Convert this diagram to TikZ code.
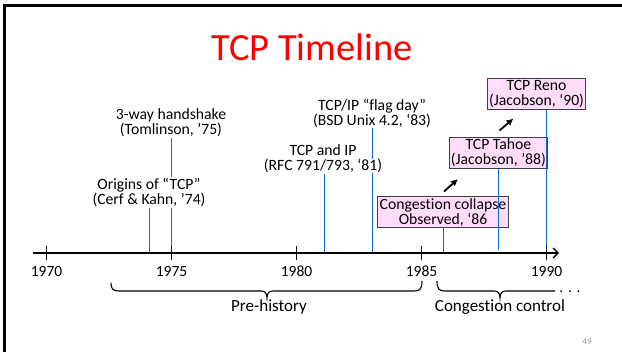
\documentclass[tikz,border=0pt]{standalone}
\usepackage{fontspec}
\setmainfont{Carlito}[Ligatures={NoCommon}, RawFeature={-calt;-clig}]
\usetikzlibrary{arrows.meta}
\definecolor{tlblue}{RGB}{20,105,210}
\definecolor{tlpink}{RGB}{255,221,250}
\definecolor{pgnum}{RGB}{150,150,150}
\tikzset{
  lbl/.style={align=center, inner sep=1pt, font=\fontsize{15.7}{15}\selectfont},
  pinkbox/.style={lbl, draw=black!75, line width=0.9pt, fill=tlpink, minimum height=31pt, inner xsep=1.5pt},
  yearlbl/.style={font=\fontsize{15.5}{16}\selectfont, inner sep=0pt},
  bracelbl/.style={font=\fontsize{17}{18}\selectfont, inner sep=0pt},
  vline/.style={draw=tlblue, line width=1.6pt},
  tickmark/.style={draw=black, line width=1.2pt},
  braceline/.style={draw=black, line width=1.1pt},
  trendarrow/.style={draw=black, line width=1.8pt, -{Latex[length=7pt,width=7pt]}}
}
\begin{document}
\begin{tikzpicture}[x=1pt,y=-1pt]
\useasboundingbox (0,0) rectangle (622,352);
% slide frame
\draw[line width=3pt] (4.3,352) -- (4.3,5.3) -- (622,5.3);
% title
\node[font=\fontsize{38.5}{40}\selectfont, text=red, anchor=base, inner sep=0pt] (title) at (312,61) {TCP Timeline};

% axis coordinates
\coordinate (axL) at (33,253);
\coordinate (axR) at (559,253);
\foreach \yr/\xx in {1970/46.5,1975/171.5,1980/296.5,1985/421.5,1990/546.5} {
  \coordinate (t\yr) at (\xx,253);
}
\coordinate (a74) at (149.5,253);
\coordinate (a75) at (171.5,253);
\coordinate (a81) at (324.5,253);
\coordinate (a83) at (372.5,253);
\coordinate (a86) at (443.5,253);
\coordinate (a88) at (498.5,250);
\coordinate (a90) at (546.5,253);

% labels (black)
\node[lbl] (n75) at (171,122.5) {3-way handshake\\(Tomlinson, ’75)};
\node[lbl] (n83) at (372,113) {TCP/IP “flag day”\\(BSD Unix 4.2, ‘83)};

% lines behind labels
\draw[vline] (n75.south -| a75) -- (a75);
\draw[vline] (n83.south -| a83) -- (a83);

\node[lbl, fill=white] (n74) at (149,192.5) {Origins of “TCP”\\(Cerf \& Kahn, ’74)};
\node[lbl] (n81) at (323,159) {TCP and IP\\{\fboxsep=0pt\colorbox{white}{(RFC 791/793, ‘81)}}};
\draw[vline] (n74.south -| a74) -- (a74);
\draw[vline] (n81.south -| a81) -- (a81);

% pink boxes
\node[pinkbox, minimum width=131pt] (n86) at (443,212.2) {Congest\kern0pt ion collapse\\Observed, ‘86};
\node[pinkbox, minimum width=96pt] (n88) at (498.4,153) {TCP Tahoe\\(Jacobson, ’88)};
\node[pinkbox, minimum width=96pt] (n90) at (536.5,93.7) {TCP Reno\\(Jacobson, ‘90)};
\draw[vline] (n86.south -| a86) -- (a86);
\draw[vline] (n88.south -| a88) -- (a88);
\draw[vline] (n90.south -| a90) -- (a90);

% trend arrows
\coordinate (r1s) at (444,191.5);
\coordinate (r1e) at (458,179);
\coordinate (r2s) at (499.5,130.5);
\coordinate (r2e) at (513.5,118.5);
\draw[trendarrow] (r1s) -- (r1e);
\draw[trendarrow] (r2s) -- (r2e);

% axis
\draw[line width=1.4pt, -{Straight Barb[length=5pt,width=10pt,line width=1.4pt]}] (axL) -- (axR);
\foreach \yr in {1970,1975,1980,1985,1990} {
  \draw[tickmark] ([yshift=-7pt]t\yr) -- ([yshift=7pt]t\yr);
  \node[yearlbl, anchor=base] (y\yr) at ([yshift=-23.5pt]t\yr) {\yr};
}

% braces
\coordinate (b1l) at (111,283);
\coordinate (b1t) at (267,298);
\coordinate (b1r) at (422,281);
\draw[braceline] (b1l) .. controls (111,289) and (113,291) .. (119,291) -- (261,291)
  .. controls (265,291) and (267,293) .. (b1t)
  .. controls (267,293) and (269,291) .. (273,291) -- (414,291)
  .. controls (420,291) and (422,289) .. (b1r);
\coordinate (b2l) at (437,281);
\coordinate (b2t) at (500,298);
\coordinate (b2r) at (555,291);
\draw[braceline] (b2l) .. controls (437,289) and (439,291) .. (445,291) -- (494,291)
  .. controls (498,291) and (500,293) .. (b2t)
  .. controls (500,293) and (502,291) .. (506,291) -- (b2r);
\node[yearlbl, anchor=base] (dots) at (570,292.5) {. . .};
\node[bracelbl] (pre) at (269,307) {Pre-history};
\node[bracelbl] (cc) at (500,307) {Congest\kern0pt ion control};

% page number
\node[font=\fontsize{9}{10}\selectfont, text=pgnum, inner sep=0pt] (pg) at (587,342) {49};
\end{tikzpicture}
\end{document}
